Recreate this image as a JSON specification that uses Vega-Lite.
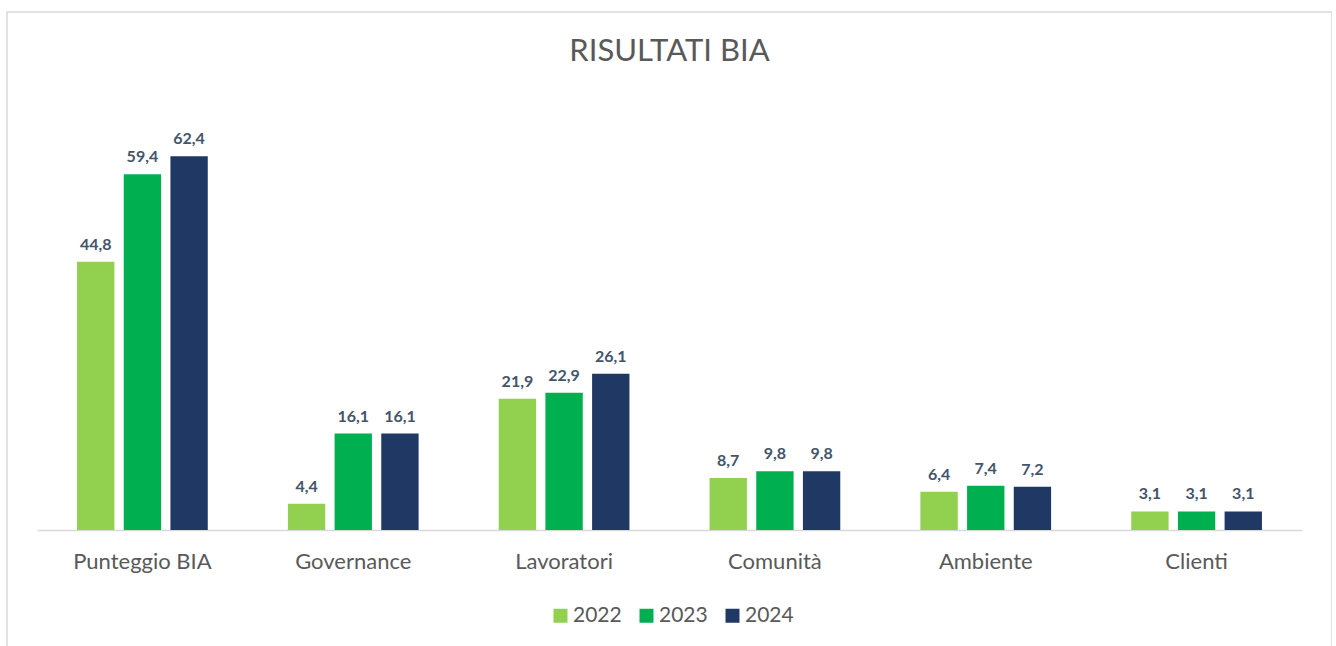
{
  "$schema": "https://vega.github.io/schema/vega-lite/v6.json",
  "width": 1325,
  "height": 650,
  "autosize": {"type": "none"},
  "padding": {"left": 7, "top": 12, "right": 0, "bottom": 0},
  "config": {
    "locale": {"number": {"decimal": ",", "thousands": ".", "grouping": [3], "currency": ["€", ""]}},
    "view": {"stroke": "#D9D9D9", "strokeWidth": 1.5},
    "font": "Lato",
    "axis": {"grid": false}
  },
  "title": {
    "text": "RISULTATI BIA",
    "fontSize": 31,
    "fontWeight": "normal",
    "color": "#595959",
    "anchor": "middle",
    "baseline": "top",
    "offset": -56
  },
  "data": {
    "values": [
      {"categoria": "Punteggio BIA", "anno": "2022", "valore": 44.8},
      {"categoria": "Punteggio BIA", "anno": "2023", "valore": 59.4},
      {"categoria": "Punteggio BIA", "anno": "2024", "valore": 62.4},
      {"categoria": "Governance", "anno": "2022", "valore": 4.4},
      {"categoria": "Governance", "anno": "2023", "valore": 16.1},
      {"categoria": "Governance", "anno": "2024", "valore": 16.1},
      {"categoria": "Lavoratori", "anno": "2022", "valore": 21.9},
      {"categoria": "Lavoratori", "anno": "2023", "valore": 22.9},
      {"categoria": "Lavoratori", "anno": "2024", "valore": 26.1},
      {"categoria": "Comunità", "anno": "2022", "valore": 8.7},
      {"categoria": "Comunità", "anno": "2023", "valore": 9.8},
      {"categoria": "Comunità", "anno": "2024", "valore": 9.8},
      {"categoria": "Ambiente", "anno": "2022", "valore": 6.4},
      {"categoria": "Ambiente", "anno": "2023", "valore": 7.4},
      {"categoria": "Ambiente", "anno": "2024", "valore": 7.2},
      {"categoria": "Clienti", "anno": "2022", "valore": 3.1},
      {"categoria": "Clienti", "anno": "2023", "valore": 3.1},
      {"categoria": "Clienti", "anno": "2024", "valore": 3.1}
    ]
  },
  "encoding": {
    "x": {
      "field": "categoria",
      "type": "nominal",
      "sort": null,
      "scale": {"range": [30, 1295], "paddingInner": 0.38, "paddingOuter": 0.19},
      "axis": {
        "title": null,
        "labelAngle": 0,
        "ticks": false,
        "domainColor": "#D9D9D9",
        "domainWidth": 1.5,
        "labelFontSize": 22,
        "labelColor": "#595959",
        "labelPadding": 21,
        "offset": -132
      }
    },
    "xOffset": {
      "field": "anno",
      "type": "nominal",
      "scale": {"paddingInner": 0.2, "paddingOuter": 0}
    },
    "y": {
      "field": "valore",
      "type": "quantitative",
      "scale": {"domain": [0, 70], "range": [518, 98.7], "nice": false, "zero": true},
      "axis": null
    }
  },
  "layer": [
    {
      "mark": {"type": "bar"},
      "encoding": {
        "color": {
          "field": "anno",
          "type": "nominal",
          "scale": {"domain": ["2022", "2023", "2024"], "range": ["#92D050", "#00B050", "#1F3864"]},
          "legend": {
            "orient": "none",
            "legendX": 543,
            "legendY": 593,
            "direction": "horizontal",
            "title": null,
            "symbolType": "square",
            "symbolSize": 196,
            "symbolStrokeWidth": 0,
            "labelFontSize": 21,
            "labelColor": "#595959",
            "labelOffset": 2,
            "columnPadding": 14
          }
        }
      }
    },
    {
      "mark": {"type": "text", "baseline": "bottom", "dy": -9, "fontSize": 16, "fontWeight": "bold", "color": "#44546A"},
      "encoding": {
        "text": {"field": "valore", "type": "quantitative", "format": ".1f"}
      }
    }
  ]
}
